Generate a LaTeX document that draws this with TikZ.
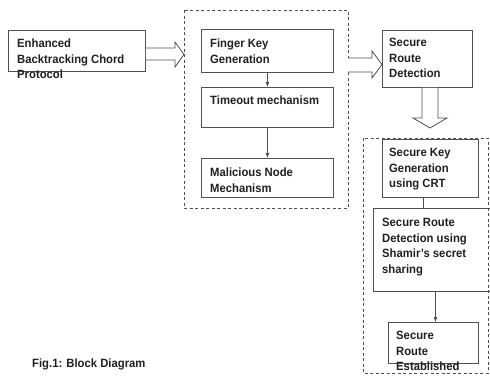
\documentclass[tikz,border=0pt]{standalone}
\usepackage{fontspec}
\setmainfont{Liberation Sans}[FakeStretch=0.94]
\usetikzlibrary{arrows.meta,calc}
\definecolor{ln}{HTML}{505050}
\definecolor{tx}{HTML}{202020}
\begin{document}
\begin{tikzpicture}[x=1pt,y=-1pt,
  box/.style={draw=ln,line width=0.9pt,rectangle,inner sep=0,anchor=north west},
  dbox/.style={draw=ln,line width=0.8pt,dash pattern=on 3pt off 2.5pt},
  txt/.style={font=\bfseries\fontsize{12}{15.5}\selectfont,text=tx,align=left,inner sep=0,anchor=north west},
  hol/.style={draw=ln,fill=white,line width=0.8pt,line join=miter},
  arr/.style={draw=ln,line width=0.8pt,-{Latex[length=5pt,width=4pt]}},
  plain/.style={draw=ln,line width=0.8pt}]
\clip (0,0) rectangle (490,375);
\fill[white] (0,0) rectangle (490,375);
% dashed groups
\draw[dbox] (184,10) rectangle (348,208);
\draw[dbox] (363,138) rectangle (488,373);
% boxes
\node[box,minimum width=137,minimum height=41] (b1) at (8,30) {};
\node[box,minimum width=132,minimum height=43] (fk) at (201,29) {};
\node[box,minimum width=132,minimum height=40] (to) at (201,87) {};
\node[box,minimum width=132,minimum height=39] (mn) at (201,158) {};
\node[box,minimum width=90,minimum height=57] (srd) at (382,30) {};
\node[box,minimum width=96,minimum height=58] (skg) at (382,139) {};
\node[box,minimum width=122,minimum height=83] (shm) at (373,208) {};
\node[box,minimum width=90,minimum height=41] (sre) at (388,322) {};
% texts
\node[txt] (t1) at (17,39) {Enhanced\\Backtracking Chord\\Protocol};
\node[txt] (t2) at (210,39) {Finger Key\\Generation};
\node[txt] (t3) at (210,96) {Timeout mechanism};
\node[txt] (t4) at (210,168) {Malicious Node\\Mechanism};
\node[txt] (t5) at (389,38) {Secure\\Route\\Detection};
\node[txt] (t6) at (389,148) {Secure Key\\Generation\\using CRT};
\node[txt] (t7) at (382,218) {Secure Route\\Detection using\\Shamir’s secret\\sharing};
\node[txt] (t8) at (396,331) {Secure\\Route\\Established};
\node[txt,font=\bfseries\fontsize{12}{15}\selectfont] (cap) at (32,359) {Fig.1: Block Diagram};
% hollow arrows
\draw[hol] (b1.east |- 0,48) -- (175,48) -- (175,42) -- (184,54.5) -- (175,67) -- (175,60) -- (b1.east |- 0,60);
\draw[hol] (348,58) -- (372,58) -- (372,51) -- (srd.west |- 0,64.5) -- (372,78) -- (372,72) -- (348,72);
\draw[hol] (422,0 |- srd.south) -- (422,118) -- (413,118) -- (430,128) -- (447,118) -- (438,118) -- (438,0 |- srd.south);
% small arrows
\draw[arr] (fk.south) -- (to.north);
\draw[arr] (to.south) -- (mn.north);
\draw[plain] ([xshift=-7pt]skg.south) -- ([xshift=-7pt]skg.south |- shm.north);
\draw[arr] ([xshift=2pt]sre.north |- shm.south) -- ([xshift=2pt]sre.north);
\end{tikzpicture}
\end{document}
